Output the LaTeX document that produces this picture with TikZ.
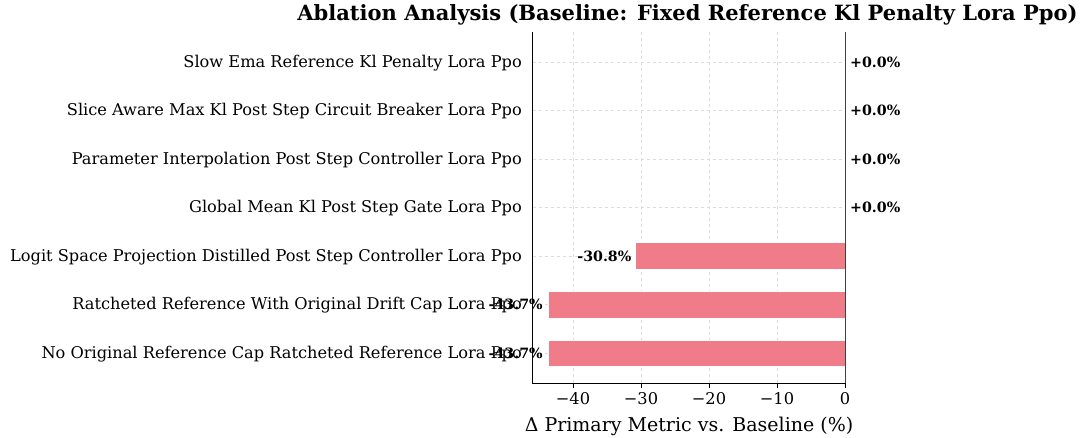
\documentclass[tikz,border=0pt]{standalone}
\usepackage{fontspec}
\setmainfont{DejaVu Serif}
\definecolor{barc}{HTML}{F07C8A}
\definecolor{gridc}{HTML}{DDDDDD}
\begin{document}
\begin{tikzpicture}[x=1pt,y=-1pt,
  ylab/.style={anchor=east,font=\fontsize{16.2}{18}\selectfont,inner sep=0pt},
  vlab/.style={font=\bfseries\fontsize{14.2}{16}\selectfont,inner sep=0pt},
  tlab/.style={anchor=north,font=\fontsize{16.2}{18}\selectfont,inner sep=0pt},
  gridl/.style={gridc,dashed,line width=0.7pt},
  barstyle/.style={fill=barc,draw=white,line width=0.4pt}]
\useasboundingbox (0,0) rectangle (1083,438);
\def\xz{845}\def\sc{6.8}\def\xl{532.7}
% grid
\foreach \t in {-40,-30,-20,-10}{
  \draw[gridl] ({\xz+\sc*\t},32) -- ({\xz+\sc*\t},383.3);}
\foreach \yy in {62,110.5,159,207.5,256,304.5,353}{
  \draw[gridl] (\xl,\yy) -- (\xz,\yy);}
% bars
\fill[barstyle] ({\xz-\sc*30.8},242.7) rectangle (\xz,269.3);
\fill[barstyle] ({\xz-\sc*43.7},291.2) rectangle (\xz,317.8);
\fill[barstyle] ({\xz-\sc*43.7},339.7) rectangle (\xz,366.3);
% axes
\draw[black,line width=1pt] (\xl,32) -- (\xl,383.3) -- (\xz,383.3);
\draw[black!75,line width=0.8pt] (\xz,32) -- (\xz,383.3);
% x ticks
\foreach \t/\s in {-40/{−40},-30/{−30},-20/{−20},-10/{−10},0/0}{
  \draw[black,line width=0.8pt] ({\xz+\sc*\t},383.3) -- ({\xz+\sc*\t},388);
  \node[tlab] (tick\t) at ({\xz+\sc*\t},392) {\s};}
% y labels
\node[ylab] (l1) at (522,63) {Slow Ema Reference Kl Penalty Lora Ppo};
\node[ylab] (l2) at (522,111.5) {Slice Aware Max Kl Post Step Circuit Breaker Lora Ppo};
\node[ylab] (l3) at (522,160) {Parameter Interpolation Post Step Controller Lora Ppo};
\node[ylab] (l4) at (522,208.5) {Global Mean Kl Post Step Gate Lora Ppo};
\node[ylab] (l5) at (522,257) {Logit Space Projection Distilled Post Step Controller Lora Ppo};
\node[ylab] (l6) at (522,305.5) {Ratcheted Reference With Original Drift Cap Lora Ppo};
\node[ylab] (l7) at (522,354) {No Original Reference Cap Ratcheted Reference Lora Ppo};
% value labels
\node[vlab,anchor=west] (v1) at (850,62) {+0.0\%};
\node[vlab,anchor=west] (v2) at (850,110.5) {+0.0\%};
\node[vlab,anchor=west] (v3) at (850,159) {+0.0\%};
\node[vlab,anchor=west] (v4) at (850,207.5) {+0.0\%};
\node[vlab,anchor=east] (v5) at ({\xz-\sc*30.8-4},256) {-30.8\%};
\node[vlab,anchor=east] (v6) at ({\xz-\sc*43.7-5},304.5) {-43.7\%};
\node[vlab,anchor=east] (v7) at ({\xz-\sc*43.7-5},353) {-43.7\%};
% axis label and title
\node[font=\fontsize{19}{21}\selectfont,inner sep=0pt] (xlab) at (689,426) {Δ Primary Metric vs. Baseline (\%)};
\node[font=\bfseries\fontsize{21}{23}\selectfont,inner sep=0pt] (title) at (687.5,15) {Ablation Analysis (Baseline: Fixed Reference Kl Penalty Lora Ppo)};
\end{tikzpicture}
\end{document}
